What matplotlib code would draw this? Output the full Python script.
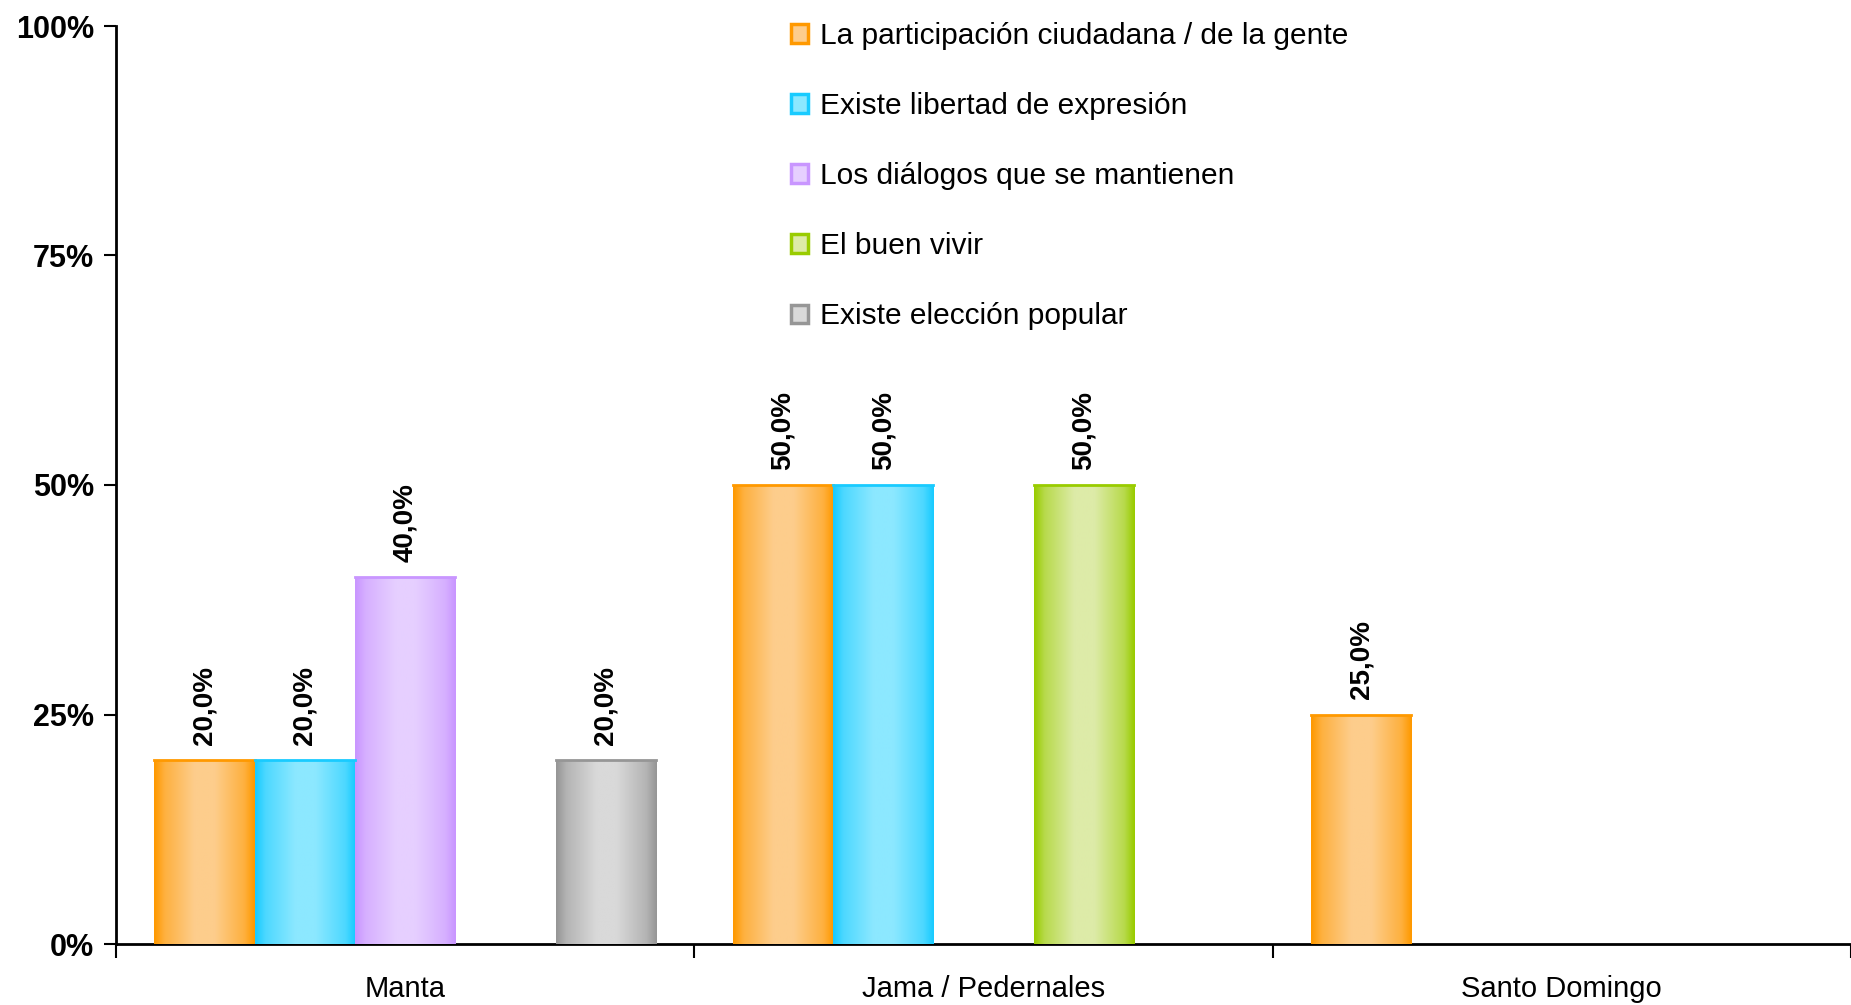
import numpy as np
import matplotlib
matplotlib.use("Agg")
import matplotlib.pyplot as plt
from matplotlib.colors import to_rgb
from matplotlib.patches import Rectangle

plt.rcParams['font.family'] = ['Liberation Sans', 'DejaVu Sans']

# data
places = ['Manta', 'Jama / Pedernales', 'Santo Domingo']
series = ['La participación ciudadana / de la gente',
          'Existe libertad de expresión',
          'Los diálogos que se mantienen',
          'El buen vivir',
          'Existe elección popular']
values = [
    [20.0, 50.0, 25.0],  # participacion
    [20.0, 50.0, 0.0],   # libertad de expresion
    [40.0, 0.0, 0.0],    # dialogos
    [0.0, 50.0, 0.0],    # buen vivir
    [20.0, 0.0, 0.0],    # eleccion popular
]
yticks = [0, 25, 50, 75, 100]

# edge (dark) and centre (light) colours for the gradient bars
dark = ['#FF9900', '#19CBFF', '#C996FF', '#99CC00', '#969696']
light = ['#FDCD8C', '#8CE8FF', '#E6CFFF', '#DDEBA8', '#D9D9D9']


def gradient(c0, c1, n=64):
    # horizontal profile: dark edges, light band near the centre
    xs = np.linspace(0, 1, n)
    t = np.interp(xs, [0, 0.1, 0.4, 0.6, 0.9, 1.0], [0, 0.45, 1, 1, 0.45, 0])
    a, b = np.array(to_rgb(c0)), np.array(to_rgb(c1))
    row = a[None, :] * (1 - t[:, None]) + b[None, :] * t[:, None]
    return row[None, :, :]


fig = plt.figure(figsize=(18.51, 10.05), dpi=100)
ax = fig.add_axes([116 / 1851, 1 - 944 / 1005, 1 - 116 / 1851, (944 - 26) / 1005])

x = np.arange(len(places))
w = 0.1735
for i, name in enumerate(series):
    vals = np.array(values[i])
    bars = ax.bar(x + (i - 2) * w, vals, w, color=dark[i], linewidth=0, zorder=2)
    img = gradient(dark[i], light[i])
    for b, v in zip(bars, vals):
        if v <= 0:
            b.set_visible(False)
            continue
        im = ax.imshow(img, extent=(b.get_x(), b.get_x() + b.get_width(), 0, b.get_height()),
                       aspect='auto', zorder=3, interpolation='bilinear')
        im.set_clip_path(b)
        # thin darker rim on top of the bar
        ax.plot([b.get_x(), b.get_x() + b.get_width()], [v, v], color=dark[i], lw=2, zorder=3.5)
        ax.annotate(f'{v:.1f}%'.replace('.', ','), (b.get_x() + b.get_width() / 2, v),
                    xytext=(0, 11), textcoords='offset points', rotation=90,
                    ha='center', va='bottom', fontsize=20, fontweight='bold', zorder=4)

ax.set_xlim(-0.5, len(places) - 0.5)
ax.set_ylim(0, 100)
ax.set_yticks(yticks)
ax.set_yticklabels([f'{t}%' for t in yticks], fontsize=22, fontweight='bold')
ax.tick_params(axis='y', length=9, width=1.5, pad=7)

ax.set_xticks(x)
ax.set_xticklabels(places, fontsize=21)
ax.tick_params(axis='x', which='major', length=0, pad=22)
ax.set_xticks(np.arange(len(places) + 1) - 0.5, minor=True)
ax.tick_params(axis='x', which='minor', length=10, width=1.5)

for s in ['top', 'right']:
    ax.spines[s].set_visible(False)
for s in ['left', 'bottom']:
    ax.spines[s].set_linewidth(2)

handles = [Rectangle((0, 0), 1, 1, facecolor=light[i], edgecolor=dark[i], linewidth=2.5)
           for i in range(len(series))]
fig.legend(handles, series, loc='upper left', bbox_to_anchor=(776 / 1851, 1 - 7 / 1005),
           frameon=False, fontsize=21.5, borderpad=0, handlelength=0.58, handleheight=0.58,
           handletextpad=0.4, labelspacing=1.41)

fig.savefig('out.png', dpi=100)
